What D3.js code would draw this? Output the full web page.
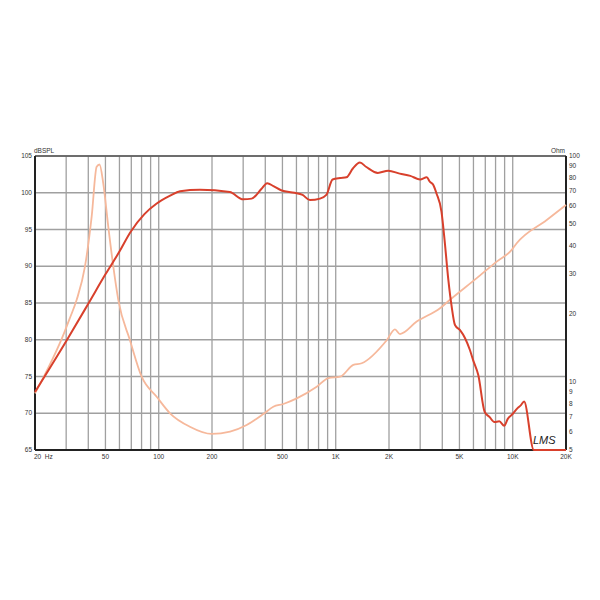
<!DOCTYPE html>
<html>
<head>
<meta charset="utf-8">
<script src="https://cdn.jsdelivr.net/npm/d3@7"></script>
<style>
  body { margin: 0; background: #fff; }
  svg text { font-family: "Liberation Sans", Arial, sans-serif; }
</style>
</head>
<body>
<div id="vis"></div>
<script>
const WIDTH = 600;
const HEIGHT = 600;
const MARGINS = {left: 35, right: 34, top: 156, bottom: 150};

// SPL response, [Hz, dB]
const splFreq = [20, 30, 40, 50, 60, 69, 83, 97, 116, 132, 171, 252, 300, 335, 380, 410, 445, 495, 585, 650, 715, 815, 885, 960, 1060, 1150, 1250, 1370, 1490, 1730, 1980, 2300, 2640, 3000, 3270, 3400, 3560, 3710, 3960, 4120, 4330, 4520, 4720, 5040, 5380, 5730, 5980, 6390, 6940, 7390, 7880, 8400, 8960, 9360, 9990, 10650, 11130, 11590, 13160, 20000];
const splDb = [72.9, 79.8, 84.9, 88.9, 92.0, 94.6, 97.1, 98.5, 99.6, 100.2, 100.4, 100.1, 99.1, 99.2, 100.5, 101.3, 100.9, 100.3, 100.0, 99.7, 99.0, 99.2, 99.7, 101.8, 102.0, 102.1, 103.3, 104.1, 103.5, 102.7, 103.0, 102.6, 102.3, 101.8, 102.1, 101.5, 101.05, 99.9, 97.4, 93.6, 88.1, 84.5, 82.0, 81.3, 80.2, 78.6, 77.2, 75.2, 70.2, 69.5, 68.8, 68.9, 68.3, 69.2, 69.9, 70.7, 71.1, 71.6, 65, 65];

// impedance, [Hz, Ohm]
const impFreq = [20, 29.5, 31.5, 34.4, 38.3, 41.8, 44.6, 46.3, 48.6, 51.9, 55.4, 59.1, 68.8, 80.1, 97.4, 115.8, 150, 199, 253, 314, 390, 444, 506, 602, 781, 908, 1058, 1257, 1402, 1941, 2162, 2307, 2868, 3884, 4422, 6260, 8120, 9870, 10530, 15560, 20000];
const impOhm = [8.9, 16.8, 19.2, 23.1, 32.4, 53.9, 89.6, 91.7, 75.7, 48.6, 32.4, 23.1, 15.3, 10.55, 8.6, 7.27, 6.34, 5.89, 6.03, 6.45, 7.21, 7.77, 7.99, 8.46, 9.53, 10.4, 10.55, 11.9, 12.1, 15.3, 17.1, 16.3, 18.5, 21.2, 23.1, 28.8, 34.1, 38.4, 41.1, 52.1, 60.7];

const gridFreqs = [20, 30, 40, 50, 60, 70, 80, 90, 100, 200, 300, 400, 500, 600, 700, 800, 900, 1000, 2000, 3000, 4000, 5000, 6000, 7000, 8000, 9000, 10000, 20000];
const freqLabels = [50, 100, 200, 500, 1000, 2000, 5000, 10000, 20000];
const dbTicks = [65, 70, 75, 80, 85, 90, 95, 100, 105];
const ohmTicks = [5, 6, 7, 8, 9, 10, 20, 30, 40, 50, 60, 70, 80, 90, 100];

const svg = d3.select("#vis")
  .append("svg")
    .attr("width", WIDTH)
    .attr("height", HEIGHT);

const x = d3.scaleLog()
  .domain([20, 20000])
  .range([MARGINS.left, WIDTH - MARGINS.right]);

const y = d3.scaleLinear()
  .domain([65, 105])
  .range([HEIGHT - MARGINS.bottom, MARGINS.top]);

const yOhm = d3.scaleLog()
  .domain([5, 100])
  .range([HEIGHT - MARGINS.bottom, MARGINS.top]);

const plotTop = MARGINS.top, plotBottom = HEIGHT - MARGINS.bottom;
const plotLeft = MARGINS.left, plotRight = WIDTH - MARGINS.right;

// grid
svg.append("g")
  .selectAll("line")
  .data(gridFreqs)
  .join("line")
    .attr("x1", d => x(d)).attr("x2", d => x(d))
    .attr("y1", plotTop).attr("y2", plotBottom)
    .attr("stroke", "#a0a0a0")
    .attr("stroke-width", 1.3);

svg.append("g")
  .selectAll("line")
  .data(dbTicks)
  .join("line")
    .attr("x1", plotLeft).attr("x2", plotRight)
    .attr("y1", d => y(d)).attr("y2", d => y(d))
    .attr("stroke", "#a0a0a0")
    .attr("stroke-width", 1.3);

// frame
svg.append("line").attr("x1", plotLeft).attr("x2", plotRight).attr("y1", plotTop).attr("y2", plotTop)
  .attr("stroke", "#555").attr("stroke-width", 1.3);
svg.append("line").attr("x1", plotLeft).attr("x2", plotRight).attr("y1", plotBottom).attr("y2", plotBottom)
  .attr("stroke", "#222").attr("stroke-width", 2);
svg.append("line").attr("x1", plotLeft).attr("x2", plotLeft).attr("y1", plotTop).attr("y2", plotBottom)
  .attr("stroke", "#222").attr("stroke-width", 2);
svg.append("line").attr("x1", plotRight).attr("x2", plotRight).attr("y1", plotTop).attr("y2", plotBottom)
  .attr("stroke", "#222").attr("stroke-width", 2);

// left labels
svg.append("g")
  .selectAll("text")
  .data(dbTicks)
  .join("text")
    .attr("x", plotLeft - 3)
    .attr("y", d => y(d) + 2)
    .attr("text-anchor", "end")
    .attr("font-size", 6.5)
    .attr("fill", "#333")
    .text(d => d);

svg.append("text").attr("x", plotLeft - 1).attr("y", plotTop - 3)
  .attr("font-size", 6.5).attr("fill", "#333").text("dBSPL");

// right labels
svg.append("g")
  .selectAll("text")
  .data(ohmTicks)
  .join("text")
    .attr("x", plotRight + 3)
    .attr("y", d => yOhm(d) + 2)
    .attr("font-size", 6.5)
    .attr("fill", "#333")
    .text(d => d);

svg.append("text").attr("x", plotRight - 1).attr("y", plotTop - 3)
  .attr("text-anchor", "end")
  .attr("font-size", 6.5).attr("fill", "#333").text("Ohm");

// bottom labels
const fmt = d => d >= 1000 ? (d / 1000) + "K" : d;
svg.append("g")
  .selectAll("text")
  .data(freqLabels)
  .join("text")
    .attr("x", d => x(d))
    .attr("y", plotBottom + 9)
    .attr("text-anchor", "middle")
    .attr("font-size", 6.5)
    .attr("fill", "#333")
    .text(fmt);

svg.append("text").attr("x", plotLeft - 1).attr("y", plotBottom + 9)
  .attr("font-size", 6.5).attr("fill", "#333").attr("xml:space", "preserve").text("20  Hz");

// curves
const impLine = d3.line()
  .x(d => x(d[0]))
  .y(d => yOhm(d[1]))
  .curve(d3.curveMonotoneX);

svg.append("path")
  .datum(d3.zip(impFreq, impOhm))
  .attr("d", impLine)
  .attr("fill", "none")
  .attr("stroke", "#f6b89b")
  .attr("stroke-width", 1.8);

const splLine = d3.line()
  .x(d => x(d[0]))
  .y(d => y(d[1]))
  .curve(d3.curveMonotoneX);

svg.append("path")
  .datum(d3.zip(splFreq, splDb))
  .attr("d", splLine)
  .attr("fill", "none")
  .attr("stroke", "#d8402c")
  .attr("stroke-width", 2);

// signature
svg.append("text").attr("x", 533).attr("y", 444)
  .attr("font-family", "DejaVu Serif")
  .attr("font-style", "italic")
  .attr("font-size", 11)
  .attr("fill", "#222")
  .text("LMS");
</script>
</body>
</html>
